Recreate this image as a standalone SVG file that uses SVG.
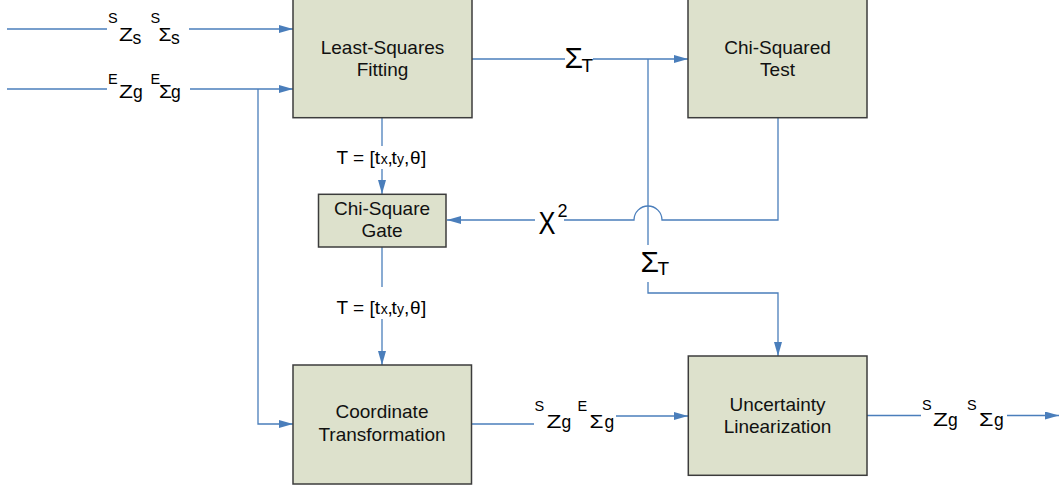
<svg xmlns="http://www.w3.org/2000/svg" width="1060" height="489" viewBox="0 0 1060 489">
<style>
.box{fill:#DDE1CC;stroke:#3C3C3C;stroke-width:1.5}
.t{font-family:"Liberation Sans",Arial,sans-serif;font-size:19px;fill:#111;text-anchor:middle}
.l{font-family:"Liberation Sans",Arial,sans-serif;fill:#000}
.c{fill:none;stroke:#4A7EBB;stroke-width:1.3}
.sup{font-size:14.5px}
.m{font-size:17.5px}
.ss{font-size:17.5px}
.big{font-size:30px}
.sm{font-size:14px}
.n{font-size:19px}
</style>
<defs>
<marker id="ah" markerUnits="userSpaceOnUse" markerWidth="14" markerHeight="8" refX="14" refY="4" orient="auto">
<path d="M0,0 L14,4 L0,8 z" fill="#4A7EBB"/>
</marker>
</defs>
<g id="connectors">
<path class="c" d="M7,29 H107"/>
<path class="c" d="M189,29 H293" marker-end="url(#ah)"/>
<path class="c" d="M7,89 H107"/>
<path class="c" d="M190,89 H293" marker-end="url(#ah)"/>
<path class="c" d="M258,89 V424 H293" marker-end="url(#ah)"/>
<path class="c" d="M472,59 H565"/>
<path class="c" d="M593,59 H688" marker-end="url(#ah)"/>
<path class="c" d="M648,59 V245"/>
<path class="c" d="M648,282 V293 H778 V356" marker-end="url(#ah)"/>
<path class="c" d="M778,118 V220 H662 A14,14 0 0 0 634,220 H564"/>
<path class="c" d="M535,220 H447" marker-end="url(#ah)"/>
<path class="c" d="M382,118 V146"/>
<path class="c" d="M382,169 V194" marker-end="url(#ah)"/>
<path class="c" d="M382,247 V287"/>
<path class="c" d="M382,319 V365" marker-end="url(#ah)"/>
<path class="c" d="M471,424 H534"/>
<path class="c" d="M616,416 H688" marker-end="url(#ah)"/>
<path class="c" d="M867,415.5 H921"/>
<path class="c" d="M1007,415.5 H1059" marker-end="url(#ah)"/>
</g>
<g id="labels">
<g id="label-szs">
<text class="l sup" x="108" y="23">S</text>
<text class="l m" x="119" y="41" textLength="14" lengthAdjust="spacingAndGlyphs">Z</text>
<text class="l ss" x="132.5" y="43.5">s</text>
<text class="l sup" x="150.5" y="23">S</text>
<text class="l m" x="158.5" y="41" textLength="13" lengthAdjust="spacingAndGlyphs">Σ</text>
<text class="l ss" x="171" y="43.5">s</text>
</g>
<g id="label-ezg">
<text class="l sup" x="108" y="84">E</text>
<text class="l m" x="119" y="97.7" textLength="14" lengthAdjust="spacingAndGlyphs">Z</text>
<text class="l ss" x="133" y="97.7">g</text>
<text class="l sup" x="150.5" y="84">E</text>
<text class="l m" x="159" y="97.7" textLength="13" lengthAdjust="spacingAndGlyphs">Σ</text>
<text class="l ss" x="171" y="97.7">g</text>
</g>
<text class="l"><tspan class="big" x="564.5" y="68.3">Σ</tspan><tspan class="n" x="581.5" y="71.7">T</tspan></text>
<text class="l"><tspan class="big" x="640.5" y="271.7">Σ</tspan><tspan class="n" x="657.5" y="275">T</tspan></text>
<text class="l" x="538.5" y="234.3" font-size="31" textLength="17" lengthAdjust="spacingAndGlyphs">X</text>
<text class="l" x="557.5" y="217.3" font-size="18">2</text>
<text class="l n" y="164.3"><tspan x="336.5">T = [t</tspan><tspan class="sm" x="380.8">x</tspan><tspan x="387.5">,</tspan><tspan x="391.5">t</tspan><tspan class="sm" x="397">y</tspan><tspan x="404">,</tspan><tspan x="410">θ</tspan><tspan x="421">]</tspan></text>
<text class="l n" y="314.3"><tspan x="336.5">T = [t</tspan><tspan class="sm" x="380.8">x</tspan><tspan x="387.5">,</tspan><tspan x="391.5">t</tspan><tspan class="sm" x="397">y</tspan><tspan x="404">,</tspan><tspan x="410">θ</tspan><tspan x="421">]</tspan></text>
<g id="label-szg-esg">
<text class="l sup" x="534.5" y="411">S</text>
<text class="l m" x="546.5" y="428" textLength="15" lengthAdjust="spacingAndGlyphs">Z</text>
<text class="l ss" x="561.5" y="428">g</text>
<text class="l sup" x="577.5" y="411">E</text>
<text class="l m" x="589.5" y="428" textLength="14" lengthAdjust="spacingAndGlyphs">Σ</text>
<text class="l ss" x="604.5" y="428">g</text>
</g>
<g id="label-szg-ssg">
<text class="l sup" x="922" y="410">S</text>
<text class="l m" x="933" y="426" textLength="15" lengthAdjust="spacingAndGlyphs">Z</text>
<text class="l ss" x="948" y="426">g</text>
<text class="l sup" x="967" y="410">S</text>
<text class="l m" x="979" y="426" textLength="14.5" lengthAdjust="spacingAndGlyphs">Σ</text>
<text class="l ss" x="994" y="426">g</text>
</g>
</g>
<g id="least-squares">
<rect class="box" x="293" y="-2" width="179" height="119.7"/>
<text class="t" x="382.5" y="54">Least-Squares</text>
<text class="t" x="382.5" y="76">Fitting</text>
</g>
<g id="chi-squared-test">
<rect class="box" x="688" y="-2" width="179" height="119.7"/>
<text class="t" x="777.5" y="54">Chi-Squared</text>
<text class="t" x="777.5" y="76">Test</text>
</g>
<g id="chi-square-gate">
<rect class="box" x="318.5" y="194.3" width="127.5" height="52.7"/>
<text class="t" x="382" y="215">Chi-Square</text>
<text class="t" x="382" y="236.7">Gate</text>
</g>
<g id="coordinate-transformation">
<rect class="box" x="293" y="365" width="178.5" height="119"/>
<text class="t" x="382" y="418">Coordinate</text>
<text class="t" x="382" y="441">Transformation</text>
</g>
<g id="uncertainty-linearization">
<rect class="box" x="688.3" y="356" width="178.7" height="119.3"/>
<text class="t" x="777.5" y="410.7">Uncertainty</text>
<text class="t" x="777.5" y="433">Linearization</text>
</g>
</svg>
